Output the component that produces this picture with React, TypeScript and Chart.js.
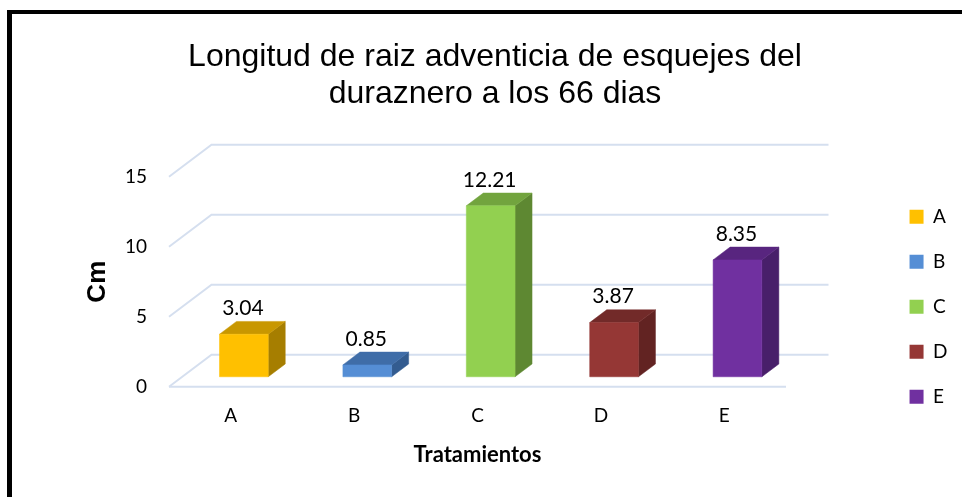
import React, { useEffect, useRef } from "react";
import { Chart, registerables } from "chart.js";

Chart.register(...registerables);

// ---- data ----
const categories = ["A", "B", "C", "D", "E"];
const values = [3.04, 0.85, 12.21, 3.87, 8.35];
const yTicks = [0, 5, 10, 15];
const titleLines = ["Longitud de raiz adventicia de esquejes del", "duraznero a los 66 dias"];
const yTitle = "Cm";
const xTitle = "Tratamientos";

// ---- styles ----
const frontColors = ["#FFC000", "#558ED5", "#92D050", "#953735", "#7030A0"];
const topColors = ["#C89700", "#3F6DA8", "#72A43E", "#722A29", "#58257F"];
const sideColors = ["#A67E00", "#335C90", "#5E8832", "#622322", "#481F6A"];
const GRID_COLOR = "#D5DFEF";

const DEPTH_DX = 42.5;
const DEPTH_DY = 32;
const BAR_FRONT = 0.31;
const BAR_DEPTH = 0.4;

const CANVAS_W = 950;
const CANVAS_H = 483;
const PAD_L = 20.5;
const PAD_R = 4.5;
const PLOT_LEFT = 157;
const PLOT_RIGHT = 774;
const X_AXIS_H = 110.3;

const SANS = "Lato, 'Open Sans', sans-serif";
const ARIAL = "'Liberation Sans', Arial, sans-serif";

const threeD = {
  id: "threeD",
  beforeDatasetsDraw(chart: any) {
    const { ctx, chartArea: a, scales } = chart;
    const y = scales.y;
    ctx.save();
    ctx.strokeStyle = GRID_COLOR;
    ctx.lineWidth = 2;
    for (const v of yTicks) {
      const py = y.getPixelForValue(v);
      ctx.beginPath();
      ctx.moveTo(a.left, py);
      ctx.lineTo(a.left + DEPTH_DX, py - DEPTH_DY);
      ctx.lineTo(a.right + DEPTH_DX, py - DEPTH_DY);
      ctx.stroke();
    }
    const p0 = y.getPixelForValue(0);
    ctx.beginPath();
    ctx.moveTo(a.left, p0);
    ctx.lineTo(a.right, p0);
    ctx.stroke();
    ctx.restore();
  },
  beforeDatasetDraw(chart: any, args: any) {
    const ctx = chart.ctx;
    const fdx = BAR_FRONT * DEPTH_DX;
    const fdy = BAR_FRONT * DEPTH_DY;
    const ddx = BAR_DEPTH * DEPTH_DX;
    const ddy = BAR_DEPTH * DEPTH_DY;
    ctx.save();
    args.meta.data.forEach((bar: any, i: number) => {
      const { x, y, base, width } = bar.getProps(["x", "y", "base", "width"], true);
      const l = x - width / 2 + fdx;
      const r = l + width;
      const t = y - fdy;
      const b = base - fdy;
      const poly = (pts: number[][], color: string) => {
        ctx.beginPath();
        ctx.moveTo(pts[0][0], pts[0][1]);
        for (let k = 1; k < pts.length; k++) ctx.lineTo(pts[k][0], pts[k][1]);
        ctx.closePath();
        ctx.fillStyle = color;
        ctx.strokeStyle = color;
        ctx.lineWidth = 0.5;
        ctx.fill();
        ctx.stroke();
      };
      poly([[r, t], [r + ddx, t - ddy], [r + ddx, b - ddy], [r, b]], sideColors[i]);
      poly([[l, t], [r, t], [r + ddx, t - ddy], [l + ddx, t - ddy]], topColors[i]);
      poly([[l, t], [r, t], [r, b], [l, b]], frontColors[i]);
    });
    ctx.restore();
    return false;
  },
  afterDatasetsDraw(chart: any) {
    const ctx = chart.ctx;
    const meta = chart.getDatasetMeta(0);
    const fdx = BAR_FRONT * DEPTH_DX;
    const fdy = BAR_FRONT * DEPTH_DY;
    const ddy = BAR_DEPTH * DEPTH_DY;
    ctx.save();
    ctx.font = `21px ${SANS}`;
    ctx.fillStyle = "#000";
    ctx.textAlign = "center";
    ctx.textBaseline = "alphabetic";
    meta.data.forEach((bar: any, i: number) => {
      const { x, y } = bar.getProps(["x", "y"], true);
      ctx.fillText(values[i].toFixed(2), x + fdx - 1, y - fdy - ddy - 6.5);
    });
    ctx.restore();
  },
};

export default function App() {
  const ref = useRef<HTMLCanvasElement | null>(null);
  useEffect(() => {
    if (!ref.current) return;
    const chart = new Chart(ref.current, {
      type: "bar",
      data: {
        labels: categories,
        datasets: [
          {
            label: "Longitud",
            data: values,
            backgroundColor: frontColors,
            categoryPercentage: 1,
            barPercentage: 0.395,
          },
        ],
      },
      options: {
        responsive: false,
        animation: false,
        layout: { padding: { left: PAD_L, right: PAD_R, top: 0, bottom: 0 } },
        plugins: {
          tooltip: { enabled: false },
          title: {
            display: true,
            text: titleLines,
            color: "#000",
            font: { family: ARIAL, size: 32, weight: "normal", lineHeight: 1.147 },
            padding: { top: 24.85, bottom: 64.45 },
          },
          legend: {
            display: true,
            position: "right",
            align: "center",
            title: { display: true, text: " ", font: { size: 12 }, padding: { top: 88, bottom: 0 } },
            labels: {
              boxWidth: 14,
              boxHeight: 14,
              padding: 26,
              color: "#000",
              font: { family: SANS, size: 19 },
              generateLabels: () =>
                categories.map((c, i) => ({
                  text: c,
                  fillStyle: frontColors[i],
                  strokeStyle: frontColors[i],
                  fontColor: "#000",
                  lineWidth: 0,
                  hidden: false,
                  index: i,
                  datasetIndex: 0,
                })),
            },
          },
        },
        scales: {
          x: {
            grid: { display: false, drawTicks: false },
            border: { display: false },
            ticks: { color: "#000", font: { family: SANS, size: 19 }, padding: 18 },
            title: {
              display: true,
              text: xTitle,
              color: "#000",
              font: { family: SANS, size: 22, weight: "bold" },
              padding: { top: 0, bottom: 29 },
            },
            afterFit: (s: any) => {
              s.height = X_AXIS_H;
            },
          },
          y: {
            min: 0,
            max: 15,
            grid: { display: false, drawTicks: false },
            border: { display: false },
            ticks: { stepSize: 5, color: "#000", font: { family: SANS, size: 19 }, padding: 22 },
            title: {
              display: true,
              text: yTitle,
              color: "#000",
              font: { family: ARIAL, size: 26, weight: "bold" },
              padding: { top: 50.2, bottom: 0 },
            },
            afterFit: (s: any) => {
              s.width = PLOT_LEFT - PAD_L;
            },
          },
          spacer: {
            type: "linear",
            position: "right",
            display: true,
            min: 0,
            max: 1,
            grid: { display: false },
            border: { display: false },
            ticks: { display: false },
            afterFit: (s: any) => {
              const lw = s.chart.legend ? s.chart.legend.width : 0;
              s.width = Math.max(0, s.chart.width - PAD_R - lw - PLOT_RIGHT);
            },
          },
        },
      },
      plugins: [threeD],
    } as any);
    return () => chart.destroy();
  }, []);

  return (
    <div
      style={{
        position: "absolute",
        left: 7,
        top: 10,
        width: CANVAS_W,
        height: CANVAS_H,
        borderTop: "4px solid #000",
        borderLeft: "5px solid #000",
        background: "#fff",
      }}
    >
      <canvas ref={ref} width={CANVAS_W} height={CANVAS_H} style={{ display: "block" }} />
    </div>
  );
}
